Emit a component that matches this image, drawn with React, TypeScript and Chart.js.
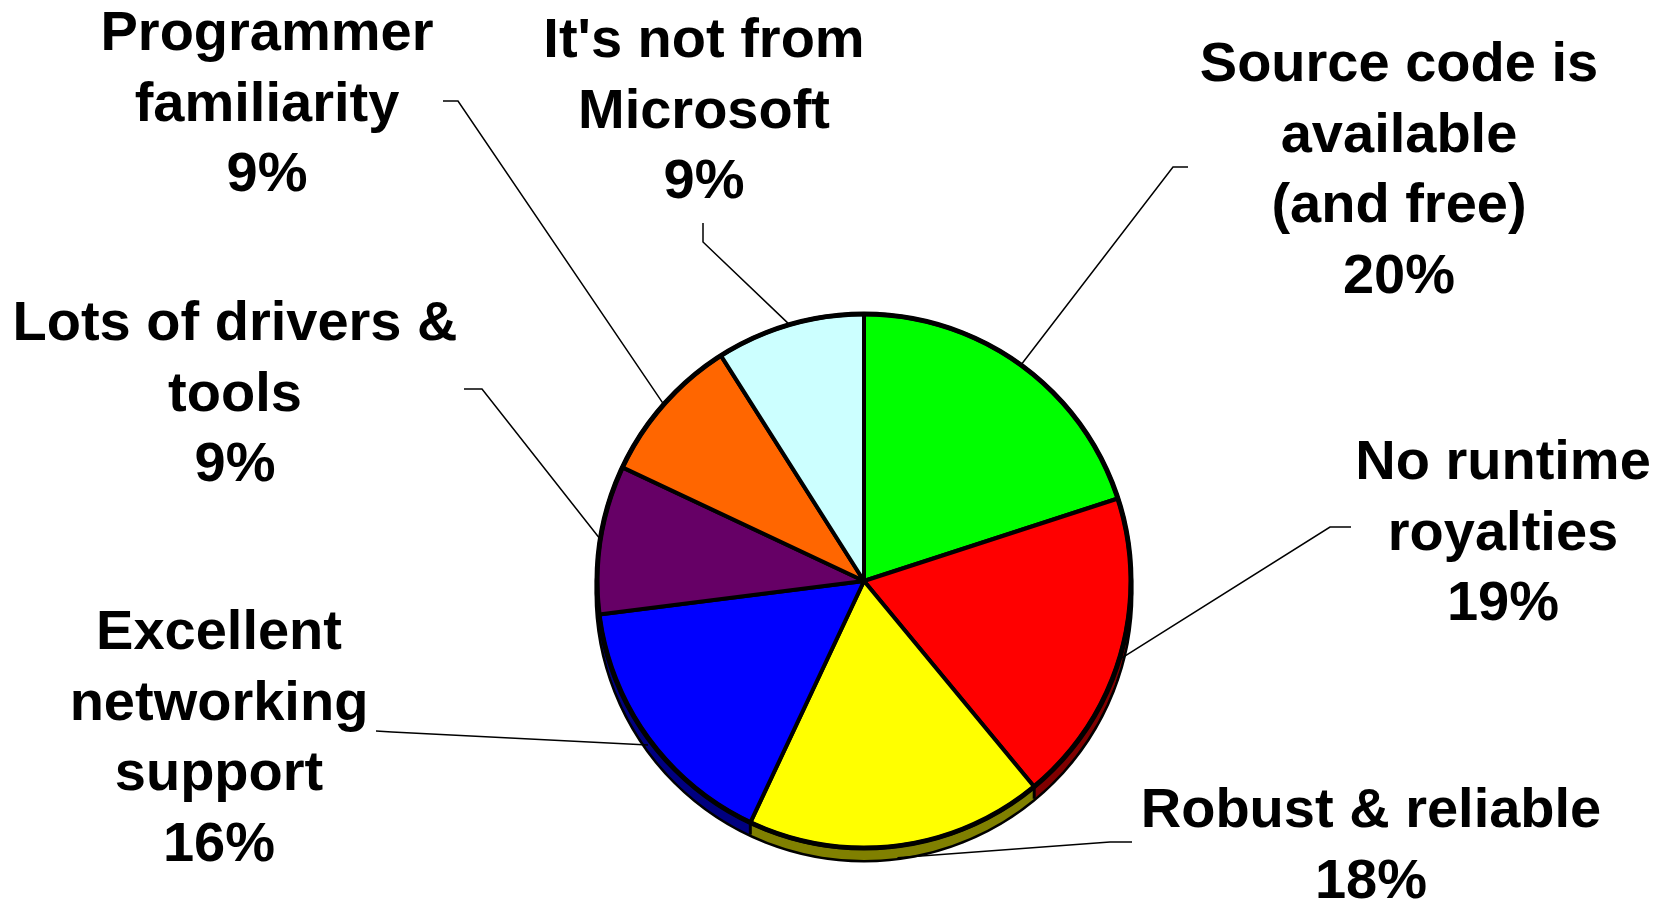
import React, { useEffect, useRef } from "react";
import { Chart, registerables } from "chart.js";

Chart.register(...registerables);

// ---- data ----
const categories = [
  "Source code is\navailable\n(and free)",
  "No runtime\nroyalties",
  "Robust & reliable",
  "Excellent\nnetworking\nsupport",
  "Lots of drivers &\ntools",
  "Programmer\nfamiliarity",
  "It's not from\nMicrosoft",
];
const values = [20, 19, 18, 16, 9, 9, 9];

// ---- styles ----
const colors = ["#00FF00", "#FF0000", "#FFFF00", "#0000FF", "#660066", "#FF6600", "#CCFFFF"];
const sideColors = ["#008000", "#800000", "#808000", "#000080", "#330033", "#803300", "#668080"];

// ---- layout (label placement) ----
const labelX = [1399, 1503, 1371, 219, 235, 267, 704];
const labelBaseline = [81, 479, 827, 649, 340, 50, 57];
const lineStep = 70.5;
const leaderElbow = [[1173, 167], [1330, 527], [1110, 842], [392, 732], [482, 389], [458, 101], [703, 242]];
const leaderEnd = [[1188, 167], [1351, 527], [1132, 842], [376, 731], [464, 389], [443, 101], [703, 223]];
const DEPTH = 12;
const FONT = "bold 56px 'Liberation Sans', Arial, Helvetica, sans-serif";

const depthPlugin = {
  id: "depth3d",
  beforeDatasetsDraw(chart: any) {
    const meta = chart.getDatasetMeta(0);
    const ctx = chart.ctx;
    if (!meta.data.length) return;
    ctx.save();
    const p0 = meta.data[0].getProps(["x", "y", "outerRadius"], true);
    ctx.beginPath();
    ctx.arc(p0.x, p0.y + DEPTH, p0.outerRadius, 0, Math.PI * 2);
    ctx.lineWidth = 5;
    ctx.strokeStyle = "#000";
    ctx.stroke();
    for (let d = DEPTH; d >= 1; d--) {
      meta.data.forEach((arc: any, i: number) => {
        const { x, y, startAngle, endAngle, outerRadius } = arc.getProps(
          ["x", "y", "startAngle", "endAngle", "outerRadius"],
          true
        );
        ctx.beginPath();
        ctx.moveTo(x, y + d);
        ctx.arc(x, y + d, outerRadius, startAngle, endAngle);
        ctx.closePath();
        ctx.fillStyle = sideColors[i];
        ctx.fill();
      });
    }
    meta.data.forEach((arc: any) => {
      const { x, y, startAngle, outerRadius } = arc.getProps(["x", "y", "startAngle", "outerRadius"], true);
      if (Math.sin(startAngle) > 0) {
        const ex = x + outerRadius * Math.cos(startAngle);
        const ey = y + outerRadius * Math.sin(startAngle);
        ctx.beginPath();
        ctx.moveTo(ex, ey);
        ctx.lineTo(ex, ey + DEPTH);
        ctx.lineWidth = 3;
        ctx.strokeStyle = "#000";
        ctx.stroke();
      }
    });
    ctx.restore();
  },
  afterDatasetsDraw(chart: any) {
    const meta = chart.getDatasetMeta(0);
    const ctx = chart.ctx;
    if (!meta.data.length) return;
    const p0 = meta.data[0].getProps(["x", "y", "outerRadius"], true);
    ctx.save();
    ctx.beginPath();
    ctx.arc(p0.x, p0.y, p0.outerRadius, 0, Math.PI * 2);
    ctx.lineWidth = 5;
    ctx.strokeStyle = "#000";
    ctx.stroke();
    ctx.restore();
  },
};

const labelPlugin = {
  id: "labels3d",
  afterDraw(chart: any) {
    const meta = chart.getDatasetMeta(0);
    const ctx = chart.ctx;
    ctx.save();
    meta.data.forEach((arc: any, i: number) => {
      const { x, y, startAngle, endAngle, outerRadius } = arc.getProps(
        ["x", "y", "startAngle", "endAngle", "outerRadius"],
        true
      );
      const a = (startAngle + endAngle) / 2;
      const sx = x + outerRadius * Math.cos(a);
      const sy = y + outerRadius * Math.sin(a) + (Math.sin(a) > 0 ? DEPTH * Math.sin(a) : 0);
      ctx.beginPath();
      ctx.moveTo(sx, sy);
      ctx.lineTo(leaderElbow[i][0], leaderElbow[i][1]);
      ctx.lineTo(leaderEnd[i][0], leaderEnd[i][1]);
      ctx.lineWidth = 1.5;
      ctx.strokeStyle = "#000";
      ctx.stroke();

      const lines = categories[i].split("\n").concat([`${values[i]}%`]);
      ctx.font = FONT;
      ctx.fillStyle = "#000";
      ctx.textAlign = "center";
      ctx.textBaseline = "alphabetic";
      lines.forEach((ln, k) => {
        ctx.fillText(ln, labelX[i], labelBaseline[i] + k * lineStep);
      });
    });
    ctx.restore();
  },
};

export default function App() {
  const ref = useRef<HTMLCanvasElement | null>(null);
  useEffect(() => {
    document.body.style.margin = "0";
    const chart = new Chart(ref.current as HTMLCanvasElement, {
      type: "pie",
      data: {
        labels: categories.map((c) => c.replace(/\n/g, " ")),
        datasets: [
          {
            data: values,
            backgroundColor: colors,
            borderColor: "#000",
            borderWidth: 4,
            borderJoinStyle: "round",
            radius: 267,
          } as any,
        ],
      },
      options: {
        responsive: false,
        animation: false,
        events: [],
        layout: { padding: { left: 66, right: 0, top: 262, bottom: 0 } },
        plugins: { legend: { display: false }, tooltip: { enabled: false }, title: { display: false } },
      },
      plugins: [depthPlugin, labelPlugin],
    });
    return () => chart.destroy();
  }, []);
  return (
    <div style={{ position: "absolute", left: 0, top: 0, width: 1662, height: 900, background: "#fff" }}>
      <canvas ref={ref} width={1662} height={900} style={{ display: "block" }} />
    </div>
  );
}
